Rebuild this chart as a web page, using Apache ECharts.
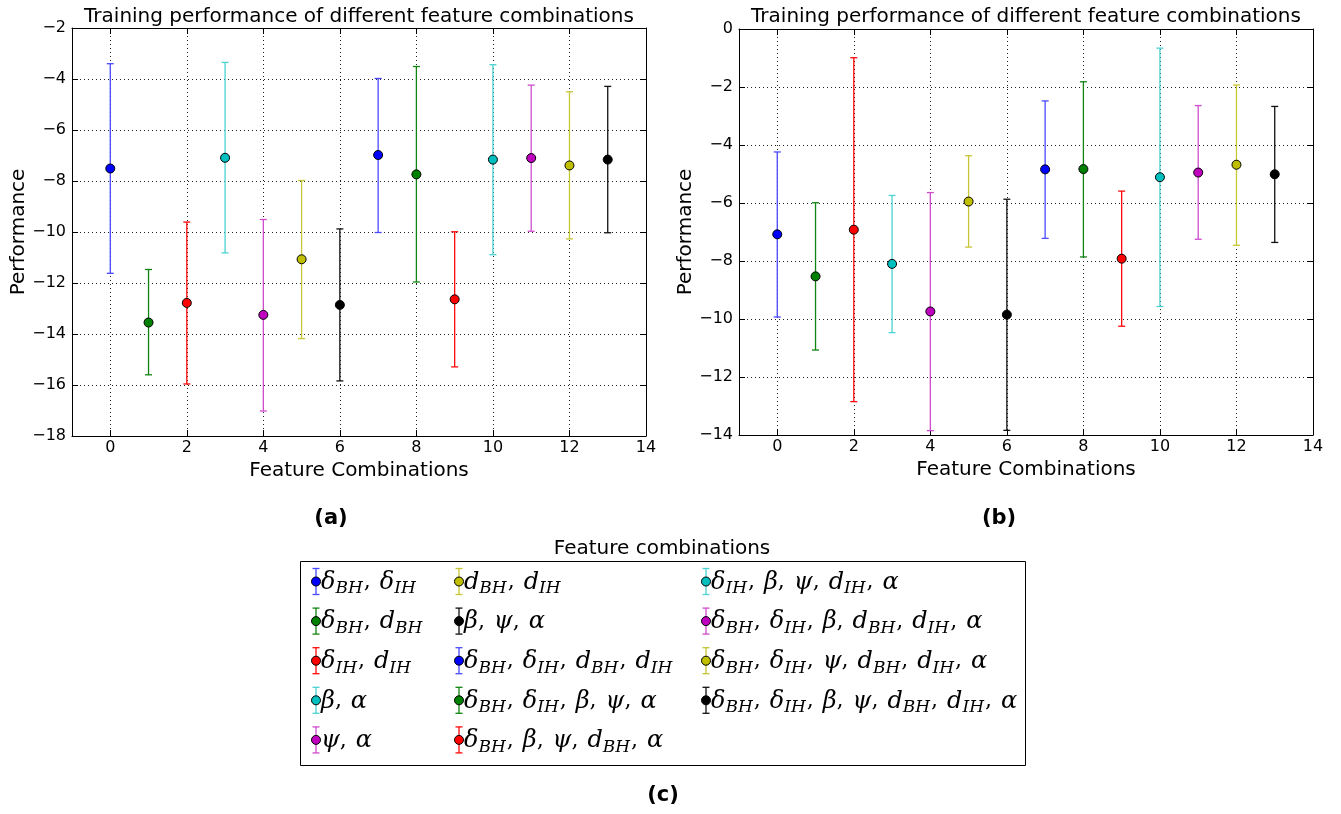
<!DOCTYPE html>
<html>
<head>
<meta charset="utf-8">
<script src="https://cdn.jsdelivr.net/npm/echarts@6/dist/echarts.min.js"></script>
<style>
html,body{margin:0;padding:0;background:#fff;}
#chart{width:1341px;height:814px;}
</style>
</head>
<body>
<div id="chart"></div>
<script>
// ---------- DATA ----------
const combos = [0,1,2,3,4,5,6,7,8,9,10,11,12,13];
const comboLabels = [
  "δ_BH, δ_IH",
  "δ_BH, d_BH",
  "δ_IH, d_IH",
  "β, α",
  "ψ, α",
  "d_BH, d_IH",
  "β, ψ, α",
  "δ_BH, δ_IH, d_BH, d_IH",
  "δ_BH, δ_IH, β, ψ, α",
  "δ_BH, β, ψ, d_BH, α",
  "δ_IH, β, ψ, d_IH, α",
  "δ_BH, δ_IH, β, d_BH, d_IH, α",
  "δ_BH, δ_IH, ψ, d_BH, d_IH, α",
  "δ_BH, δ_IH, β, ψ, d_BH, d_IH, α"
];
// (a)
const aMean = [-7.51, -13.55, -12.78, -7.09, -13.25, -11.07, -12.86, -6.98, -7.74, -12.64, -7.16, -7.10, -7.39, -7.16];
const aLow  = [-11.62, -15.60, -15.96, -10.82, -17.02, -14.18, -15.84, -10.02, -11.96, -15.29, -10.89, -9.97, -10.27, -10.03];
const aHigh = [-3.40, -11.47, -9.61, -3.35, -9.51, -7.98, -9.88, -3.98, -3.51, -9.99, -3.44, -4.24, -4.50, -4.29];
// (b)
const bMean = [-7.08, -8.53, -6.92, -8.10, -9.74, -5.95, -9.85, -4.84, -4.83, -7.92, -5.11, -4.95, -4.68, -5.01];
const bLow  = [-9.93, -11.07, -12.85, -10.47, -13.85, -7.52, -13.84, -7.22, -7.86, -10.25, -9.57, -7.25, -7.46, -7.36];
const bHigh = [-4.24, -5.99, -0.99, -5.74, -5.64, -4.37, -5.87, -2.48, -1.82, -5.59, -0.66, -2.64, -1.93, -2.67];
// texts
const chartTitle = "Training performance of different feature combinations";
const xName = "Feature Combinations";
const yName = "Performance";
const legendTitle = "Feature combinations";
const panelTags = ["(a)", "(b)", "(c)"];

// ---------- STYLE ----------
const markColors = ['#0000ff', '#008000', '#ff0000', '#00bfbf', '#bf00bf', '#bfbf00', '#000000'];
const barColors  = ['#4a4aff', '#108410', '#ff0a0a', '#4cd2d2', '#cf4ccf', '#c6c636', '#111111'];
const FONT = 'DejaVu Sans';
const MATH = 'DejaVu Serif';

const grids = [
  {left: 72, top: 28, width: 574, height: 408},
  {left: 739, top: 29, width: 574, height: 406}
];
const yRanges = [[-18, -2], [-14, 0]];

function fmtNum(v){ return v < 0 ? '\u2212' + Math.abs(v) : String(v); }

function makeRender(ci){
  return function(params, api){
    const x = api.value(0);
    const p = api.coord([x, api.value(1)]);
    const lo = api.coord([x, api.value(2)]);
    const hi = api.coord([x, api.value(3)]);
    const bc = barColors[ci % 7], mc = markColors[ci % 7];
    const cw = 3.5;
    return {type: 'group', children: [
      {type: 'line', shape: {x1: p[0], y1: hi[1], x2: p[0], y2: lo[1]}, style: {stroke: bc, lineWidth: 1.3}},
      {type: 'line', shape: {x1: p[0]-cw, y1: hi[1], x2: p[0]+cw, y2: hi[1]}, style: {stroke: bc, lineWidth: 1.3}},
      {type: 'line', shape: {x1: p[0]-cw, y1: lo[1], x2: p[0]+cw, y2: lo[1]}, style: {stroke: bc, lineWidth: 1.3}},
      {type: 'circle', shape: {cx: p[0], cy: p[1], r: 4.5}, style: {fill: mc, stroke: '#000', lineWidth: 1}}
    ]};
  };
}

const xAxes = [], yAxes = [], series = [];
grids.forEach((g, gi) => {
  const tick = {show: true, inside: true, length: 6, lineStyle: {color: '#000', width: 1}};
  const line = {show: true, onZero: false, lineStyle: {color: '#000', width: 1}};
  const split = {show: true, lineStyle: {color: '#222', width: 1, type: [1, 3]}};
  xAxes.push({
    type: 'value', gridIndex: gi, position: 'bottom', min: -1, max: 14, splitNumber: 7,
    axisLine: line, axisTick: tick, splitLine: split,
    axisLabel: {color: '#000', fontFamily: FONT, fontSize: 16, margin: 4,
      formatter: v => (v === -1 ? '' : fmtNum(v))},
    name: xName, nameLocation: 'middle', nameGap: 25,
    nameTextStyle: {color: '#000', fontFamily: FONT, fontSize: 20}
  });
  xAxes.push({
    type: 'value', gridIndex: gi, position: 'top', min: -1, max: 14, splitNumber: 7,
    axisLine: line, axisTick: tick, splitLine: {show: false}, axisLabel: {show: false}
  });
  yAxes.push({
    type: 'value', gridIndex: gi, position: 'left', min: yRanges[gi][0], max: yRanges[gi][1], interval: 2,
    axisLine: line, axisTick: tick, splitLine: split,
    axisLabel: {color: '#000', fontFamily: FONT, fontSize: 16, margin: 6, formatter: fmtNum},
    name: yName, nameLocation: 'middle', nameGap: 43,
    nameTextStyle: {color: '#000', fontFamily: FONT, fontSize: 20}
  });
  yAxes.push({
    type: 'value', gridIndex: gi, position: 'right', min: yRanges[gi][0], max: yRanges[gi][1], interval: 2,
    axisLine: line, axisTick: tick, splitLine: {show: false}, axisLabel: {show: false}
  });
  const M = gi === 0 ? aMean : bMean, L = gi === 0 ? aLow : bLow, H = gi === 0 ? aHigh : bHigh;
  combos.forEach((c, ci) => {
    series.push({
      type: 'custom', name: comboLabels[ci], xAxisIndex: gi * 2, yAxisIndex: gi * 2,
      renderItem: makeRender(ci), clip: false, z: 5,
      encode: {x: 0, y: [1, 2, 3]},
      data: [[c, M[ci], L[ci], H[ci]]]
    });
  });
});

// ---------- rich text for legend ----------
function toRich(label){
  let out = '';
  const parts = label.split(', ');
  parts.forEach((p, k) => {
    const m = p.match(/^(.*?)(?:_([A-Z]+))?$/);
    out += '{m|' + m[1] + '}';
    if (m[2]) out += '{s|' + m[2] + '}';
    if (k < parts.length - 1) out += '{c|, }';
  });
  return out;
}
const rich = {
  m: {fontFamily: MATH, fontStyle: 'italic', fontSize: 24, lineHeight: 30, color: '#000', verticalAlign: 'middle'},
  s: {fontFamily: MATH, fontStyle: 'italic', fontSize: 17, lineHeight: 17, color: '#000', verticalAlign: 'bottom', padding: [0, 1, 0, 0]},
  c: {fontFamily: MATH, fontSize: 22, lineHeight: 30, color: '#000', verticalAlign: 'middle', padding: [0, 2, 0, 0]}
};

const graphics = [];
grids.forEach((g, gi) => {
  graphics.push({type: 'text', x: g.left + g.width / 2, y: 17,
    style: {text: chartTitle, fill: '#000', font: '20px "' + FONT + '"', align: 'center', verticalAlign: 'middle'}});
  graphics.push({type: 'text', x: gi === 0 ? 331 : 999, y: 519,
    style: {text: panelTags[gi], fill: '#000', font: 'bold 21px "' + FONT + '"', align: 'center', verticalAlign: 'middle'}});
});
graphics.push({type: 'text', x: 663, y: 796,
  style: {text: panelTags[2], fill: '#000', font: 'bold 21px "' + FONT + '"', align: 'center', verticalAlign: 'middle'}});
graphics.push({type: 'text', x: 662, y: 549,
  style: {text: legendTitle, fill: '#000', font: '20px "' + FONT + '"', align: 'center', verticalAlign: 'middle'}});
graphics.push({type: 'rect', shape: {x: 300.5, y: 561.5, width: 725, height: 204},
  style: {fill: '#fff', stroke: '#000', lineWidth: 1}});
const colX = [316, 459, 706];
const rowY0 = 581.5, rowDY = 39.6;
comboLabels.forEach((lab, i) => {
  const col = Math.floor(i / 5), row = i % 5;
  const x = colX[col], y = rowY0 + row * rowDY;
  const bc = barColors[i % 7], mc = markColors[i % 7];
  graphics.push({type: 'group', x: x, y: y, children: [
    {type: 'line', shape: {x1: 0, y1: -13, x2: 0, y2: 13}, style: {stroke: bc, lineWidth: 1.3}},
    {type: 'line', shape: {x1: -3.5, y1: -13, x2: 3.5, y2: -13}, style: {stroke: bc, lineWidth: 1.3}},
    {type: 'line', shape: {x1: -3.5, y1: 13, x2: 3.5, y2: 13}, style: {stroke: bc, lineWidth: 1.3}},
    {type: 'circle', shape: {cx: 0, cy: 0, r: 4.5}, style: {fill: mc, stroke: '#000', lineWidth: 1}},
    {type: 'text', x: 5, y: 1, style: {text: toRich(lab), rich: rich, align: 'left', verticalAlign: 'middle'}}
  ]});
});

const chart = echarts.init(document.getElementById('chart'), null, {renderer: 'canvas'});
chart.setOption({
  animation: false,
  backgroundColor: '#fff',
  grid: grids.map(g => Object.assign({containLabel: false}, g)),
  xAxis: xAxes,
  yAxis: yAxes,
  series: series,
  graphic: graphics
});
</script>
</body>
</html>
